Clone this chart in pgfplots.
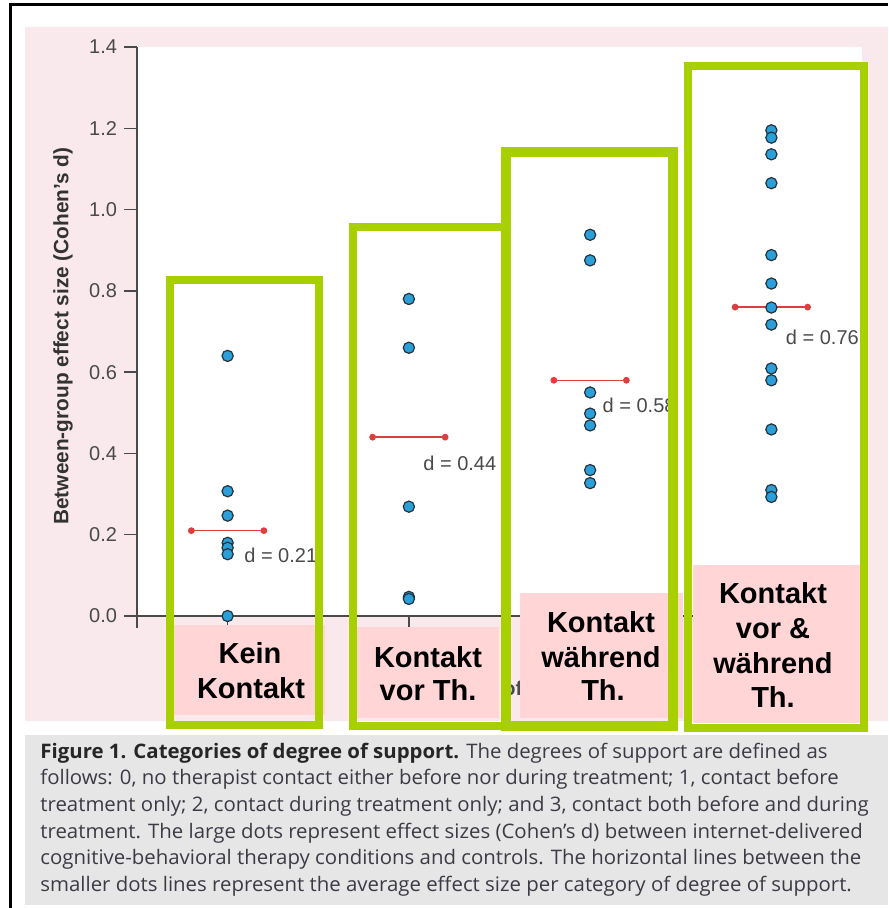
\documentclass[border=0pt]{standalone}
\usepackage{pgfplots}
\pgfplotsset{compat=1.18}
\usepackage{fontspec}
\setmainfont{Liberation Sans}
\newfontfamily\capfont[FakeStretch=1.02]{Open Sans}
\definecolor{bgpink}{HTML}{F9E8EC}
\definecolor{labpink}{HTML}{FFD5D6}
\definecolor{lime}{HTML}{A8D000}
\definecolor{dotblue}{HTML}{2A9FD8}
\definecolor{dotedge}{HTML}{26323E}
\definecolor{meanred}{HTML}{D9403F}
\definecolor{axgrey}{HTML}{4A4A4A}
\definecolor{capgrey}{HTML}{E6E6E6}
\definecolor{captext}{HTML}{3B3B45}
\begin{document}
\begin{tikzpicture}
\begin{scope}[x=0.5pt,y=-0.5pt]
\useasboundingbox (0,0) rectangle (888,908);
\fill[white] (0,0) rectangle (888,908);
\fill[bgpink] (25,27) rectangle (888,721);
\fill[capgrey] (25,735) rectangle (888,905);
\draw[black, line width=1.5pt] (10.5,908) -- (10.5,5) -- (888,5);
\end{scope}

\begin{axis}[at={(68.5pt,-308pt)}, anchor=south west, scale only axis,
  width=362.5pt, height=284.5pt,
  xmin=-0.5, xmax=3.5, ymin=0, ymax=1.4, clip=false,
  axis background/.style={fill=white},
  axis x line=bottom, axis y line=left,
  axis line style={-, axgrey, line width=0.7pt},
  xtick={0,1,2,3}, xticklabels={},
  ytick={0,0.2,0.4,0.6,0.8,1.0,1.2,1.4},
  tick align=outside, major tick length=6.5pt,
  tick style={axgrey, line width=0.7pt},
  /pgf/number format/assume math mode=true,
  yticklabel style={/pgf/number format/.cd, fixed, fixed zerofill, precision=1, /tikz/.cd,
    font=\fontsize{10}{12}\selectfont, text=axgrey},
  ylabel={Between-group effect size (Cohen’s d)},
  ylabel style={font=\bfseries\fontsize{10.4}{12}\selectfont, text=black!80,
    at={(axis description cs:-0.102,0.492)}, anchor=center},
  xlabel={Degree of support},
  xlabel style={font=\bfseries\fontsize{10}{12}\selectfont, text=axgrey,
    at={(axis description cs:0.523,-0.13)}, anchor=center},
]
\draw[axgrey, line width=0.7pt] (axis cs:-0.5,0) -- ([yshift=-6pt]axis cs:-0.5,0);
% mean lines
\addplot[meanred, line width=0.75pt, mark=*, mark size=1.3pt, mark options={fill=meanred, draw=meanred}]
  coordinates {(-0.2,0.21) (0.2,0.21)};
\addplot[meanred, line width=0.75pt, mark=*, mark size=1.3pt, mark options={fill=meanred, draw=meanred}]
  coordinates {(0.8,0.44) (1.2,0.44)};
\addplot[meanred, line width=0.75pt, mark=*, mark size=1.3pt, mark options={fill=meanred, draw=meanred}]
  coordinates {(1.8,0.58) (2.2,0.58)};
\addplot[meanred, line width=0.75pt, mark=*, mark size=1.3pt, mark options={fill=meanred, draw=meanred}]
  coordinates {(2.8,0.76) (3.2,0.76)};
% effect sizes
\addplot[only marks, mark=*, mark size=2.8pt, mark options={fill=dotblue, draw=dotedge, line width=0.6pt}]
  coordinates {(0,0.64) (0,0.307) (0,0.247) (0,0.18) (0,0.168) (0,0.152) (0,0.0)};
\addplot[only marks, mark=*, mark size=2.8pt, mark options={fill=dotblue, draw=dotedge, line width=0.6pt}]
  coordinates {(1,0.78) (1,0.66) (1,0.269) (1,0.047) (1,0.042)};
\addplot[only marks, mark=*, mark size=2.8pt, mark options={fill=dotblue, draw=dotedge, line width=0.6pt}]
  coordinates {(2,0.938) (2,0.875) (2,0.55) (2,0.498) (2,0.469) (2,0.359) (2,0.327)};
\addplot[only marks, mark=*, mark size=2.8pt, mark options={fill=dotblue, draw=dotedge, line width=0.6pt}]
  coordinates {(3,1.195) (3,1.177) (3,1.136) (3,1.065) (3,0.888) (3,0.818) (3,0.759)
               (3,0.717) (3,0.609) (3,0.58) (3,0.459) (3,0.31) (3,0.293)};
\tikzset{dlab/.style={anchor=west, inner sep=0pt, font=\fontsize{10}{12}\selectfont, text=axgrey}}
\node[dlab] at (axis cs:0.09,0.15) {d = 0.21};
\node[dlab] at (axis cs:1.078,0.376) {d = 0.44};
\node[dlab] at (axis cs:2.067,0.519) {d = 0.58};
\node[dlab] at (axis cs:3.078,0.686) {d = 0.76};
\end{axis}

\begin{scope}[x=0.5pt,y=-0.5pt]
% category label boxes
\fill[labpink] (173,625) rectangle (325,715);
\fill[labpink] (357,627) rectangle (499,718);
\fill[labpink] (520,593) rectangle (683,718);
\fill[labpink] (693,565) rectangle (860,723);
% green frames
\draw[lime, line width=4pt] (170,280) rectangle (319,725);
\draw[lime, line width=4pt] (353,227) rectangle (505,726);
\draw[lime, line width=4.6pt] (506,152) rectangle (673,726);
\draw[lime, line width=4pt] (688,66) rectangle (864,728);
% category texts
\tikzset{cat/.style={anchor=base, inner sep=0pt, font=\bfseries\fontsize{14.5}{17}\selectfont, text=black}}
\node[cat] at (250,663) {Kein};
\node[cat] at (251,698) {Kontakt};
\node[cat] at (428,667) {Kontakt};
\node[cat] at (428,700) {vor Th.};
\node[cat] at (601,632) {Kontakt};
\node[cat] at (601,667) {während};
\node[cat] at (603,700) {Th.};
\node[cat] at (773,603) {Kontakt};
\node[cat] at (773,638) {vor \&};
\node[cat] at (773,673) {während};
\node[cat] at (773,707) {Th.};
% caption
\tikzset{capl/.style={anchor=base west, inner sep=0pt, font=\capfont\fontsize{10}{12}\selectfont, text=captext}}
\node[capl] at (40,758) {{\bfseries\color{black!85}Figure 1. Categories of degree of support.} The degrees of support are defined as};
\node[capl] at (40,784.7) {follows: 0, no therapist contact either before nor during treatment; 1, contact before};
\node[capl] at (40,811.4) {treatment only; 2, contact during treatment only; and 3, contact both before and during};
\node[capl] at (40,838.1) {treatment. The large dots represent effect sizes (Cohen’s d) between internet-delivered};
\node[capl] at (40,864.8) {cognitive-behavioral therapy conditions and controls. The horizontal lines between the};
\node[capl] at (40,891.5) {smaller dots lines represent the average effect size per category of degree of support.};
\end{scope}
\end{tikzpicture}
\end{document}
